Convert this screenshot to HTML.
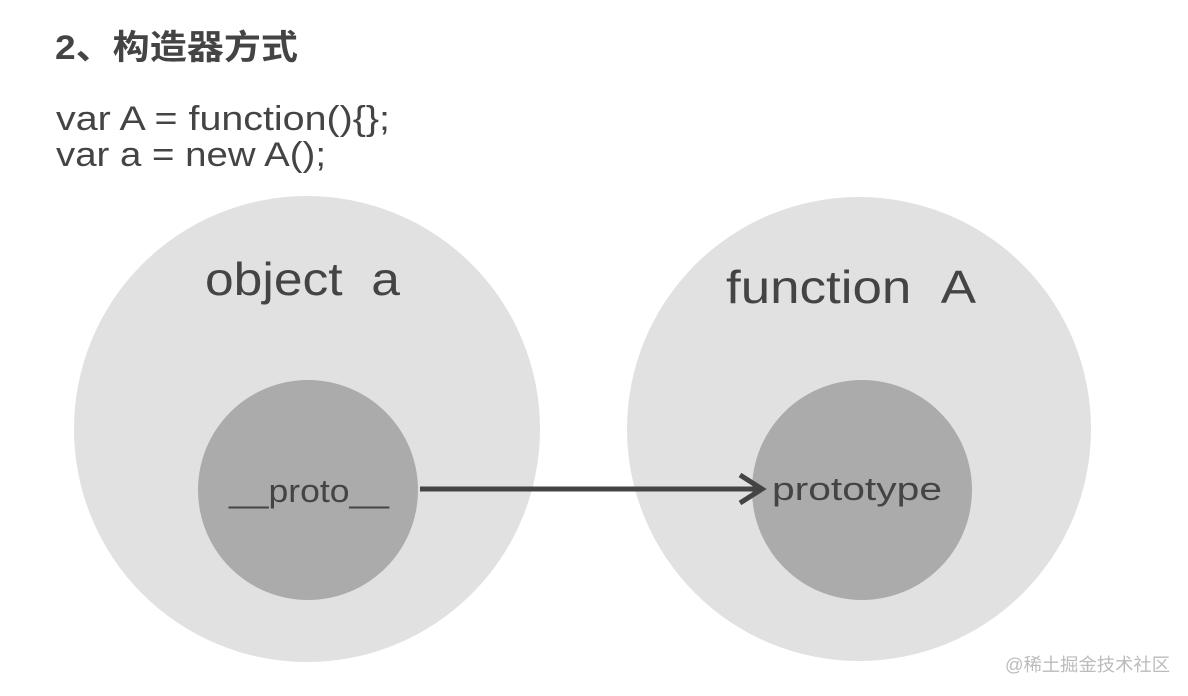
<!DOCTYPE html>
<html><head><meta charset="utf-8"><style>html,body{margin:0;padding:0;background:#fff;}</style></head>
<body>
<svg width="1188" height="696" xmlns="http://www.w3.org/2000/svg" style="display:block">
<rect width="1188" height="696" fill="#fff"/>
<text x="55" y="59" font-family="Liberation Sans, Noto Sans CJK SC, sans-serif" font-weight="bold" font-size="34" fill="#444" textLength="243" lengthAdjust="spacingAndGlyphs">2、构造器方式</text>
<text x="56" y="130" font-family="Liberation Sans, sans-serif" font-size="34" fill="#444" textLength="334" lengthAdjust="spacingAndGlyphs">var A = function(){};</text>
<text x="56" y="166" font-family="Liberation Sans, sans-serif" font-size="34" fill="#444" textLength="270" lengthAdjust="spacingAndGlyphs">var a = new A();</text>
<circle cx="307" cy="429" r="233" fill="#e1e1e1"/>
<circle cx="859" cy="429" r="232" fill="#e1e1e1"/>
<circle cx="308" cy="490" r="110" fill="#ababab"/>
<circle cx="862" cy="490" r="110" fill="#ababab"/>
<text x="205" y="295" font-family="Liberation Sans, sans-serif" font-size="46" fill="#444" textLength="195" lengthAdjust="spacingAndGlyphs">object&#160;&#160;a</text>
<text x="726" y="303" font-family="Liberation Sans, sans-serif" font-size="46" fill="#444" textLength="250" lengthAdjust="spacingAndGlyphs">function&#160;&#160;A</text>
<text x="229" y="502" font-family="Liberation Sans, sans-serif" font-size="32" fill="#444" textLength="160" lengthAdjust="spacingAndGlyphs">__proto__</text>
<text x="772" y="500" font-family="Liberation Sans, sans-serif" font-size="32" fill="#444" textLength="170" lengthAdjust="spacingAndGlyphs">prototype</text>
<line x1="420" y1="489" x2="760" y2="489" stroke="#444" stroke-width="5"/>
<polyline points="740,475 762,489 740,503" fill="none" stroke="#444" stroke-width="5" stroke-linejoin="miter"/>
<text x="1005" y="671" font-family="Liberation Sans, Noto Sans CJK SC, sans-serif" font-size="18" fill="#bbb" textLength="165" lengthAdjust="spacingAndGlyphs">@稀土掘金技术社区</text>
</svg>
</body></html>
